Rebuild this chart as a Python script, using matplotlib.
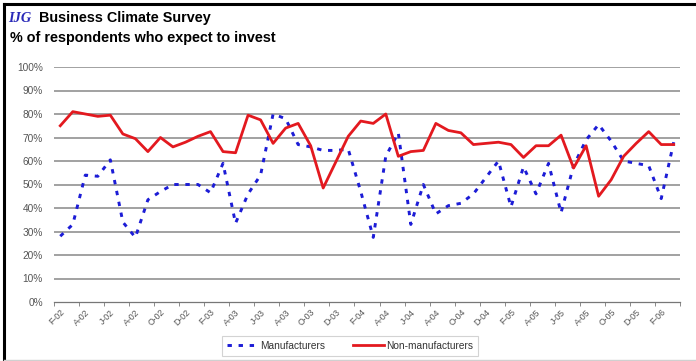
import numpy as np
import matplotlib.pyplot as plt
from matplotlib.lines import Line2D

# monthly survey, Feb-2002 .. Mar-2006 (% of respondents expecting to invest)
manufacturers = [28, 33, 54, 53.5, 60.5, 34, 27.5, 43.5, 47, 50,
                 50, 50, 46.5, 59, 33.5, 46, 54, 80, 78, 67,
                 66, 64.5, 64.5, 65, 47, 27.5, 62, 72, 33, 50,
                 37.5, 41, 42, 46, 53, 60, 40.5, 57.5, 46, 59,
                 38, 58, 69, 75.5, 68.5, 60, 59, 58, 44, 68]
non_manufacturers = [75, 81, 80, 79, 79.5, 71.5, 69.5, 64, 70, 66,
                     68, 70.5, 72.5, 64, 63.5, 79.5, 77.5, 67.5, 74, 76,
                     66.5, 48.5, 59.5, 70.5, 77, 76, 80, 62, 64, 64.5,
                     76, 73, 72, 67, 67.5, 68, 67, 61.5, 66.5, 66.5,
                     71, 57, 66.5, 45, 52, 62, 67.5, 72.5, 67, 67]
# one label every second month
tick_labels = ['F-02', 'A-02', 'J-02', 'A-02', 'O-02', 'D-02',
               'F-03', 'A-03', 'J-03', 'A-03', 'O-03', 'D-03',
               'F-04', 'A-04', 'J-04', 'A-04', 'O-04', 'D-04',
               'F-05', 'A-05', 'J-05', 'A-05', 'O-05', 'D-05', 'F-06']
y_ticks = [0, 10, 20, 30, 40, 50, 60, 70, 80, 90, 100]

BLUE = '#1c1cd6'
RED = '#e3191f'
GREY = '#555555'

plt.rcParams['font.family'] = ['Liberation Sans', 'DejaVu Sans']

fig = plt.figure(figsize=(6.96, 3.61), dpi=100)
ax = fig.add_axes([54 / 696, 1 - 302 / 361, 626 / 696, 235 / 361])

x = np.arange(len(manufacturers))
ax.plot(x, manufacturers, color=BLUE, lw=2.1, ls=(0, (1.5, 2.3)),
        label='Manufacturers', zorder=3)
ax.plot(x, non_manufacturers, color=RED, lw=2.0, label='Non-manufacturers',
        zorder=4)

ax.set_xlim(-0.5, len(manufacturers) - 0.5)
ax.set_ylim(0, 100)
ax.set_yticks(y_ticks)
ax.set_yticklabels(['{}%'.format(v) for v in y_ticks], fontsize=7.3, color=GREY)
for v in y_ticks[1:]:
    ax.axhline(v, color='#9a9a9a', lw=1.3, zorder=1)

ax.set_xticks(np.arange(0, len(manufacturers), 2))
ax.set_xticklabels(tick_labels, rotation=45, ha='right', rotation_mode='anchor',
                   fontsize=6.3, color=GREY)
ax.set_xticks(np.arange(-0.5, len(manufacturers), 2), minor=True)
ax.tick_params(axis='x', which='major', length=0, pad=4)
ax.tick_params(axis='x', which='minor', length=3, color='#777777', direction='out')
ax.tick_params(axis='y', length=0, pad=8)

for side in ['left', 'right', 'top']:
    ax.spines[side].set_visible(False)
ax.spines['bottom'].set_color('#777777')
ax.spines['bottom'].set_linewidth(0.9)

# titles
fig.text(8 / 696, 1 - 22 / 361, 'IJG', fontsize=10.4, color='#2a2ab8',
         fontstyle='italic', fontweight='bold', family='Liberation Serif')
fig.text(39 / 696, 1 - 22 / 361, 'Business Climate Survey', fontsize=10.4,
         fontweight='bold')
fig.text(10 / 696, 1 - 42 / 361, '% of respondents who expect to invest',
         fontsize=10.4, fontweight='bold')

handles = [Line2D([], [], color=BLUE, lw=2.1, ls=(0, (1.5, 2.3))),
           Line2D([], [], color=RED, lw=2.0)]
leg = fig.legend(handles, ['Manufacturers', 'Non-manufacturers'], ncol=2,
                 loc='center', bbox_to_anchor=(350 / 696, 1 - 346 / 361),
                 fontsize=7.3, frameon=True, fancybox=False, handlelength=3.0,
                 handletextpad=0.2, columnspacing=2.8, borderpad=0.5,
                 borderaxespad=0, labelcolor='#333333')
leg.get_frame().set_edgecolor('#c8c8c8')
leg.get_frame().set_linewidth(0.8)

# picture frame
fig.add_artist(Line2D([4 / 696, 4 / 696], [0, 1 - 4 / 361], color='black', lw=2.2,
                      transform=fig.transFigure))
fig.add_artist(Line2D([4 / 696, 1], [1 - 4 / 361, 1 - 4 / 361], color='black',
                      lw=2.2, transform=fig.transFigure))
fig.add_artist(Line2D([4 / 696, 1], [1.5 / 361, 1.5 / 361], color='#d0d0d0',
                      lw=1.0, transform=fig.transFigure))

plt.savefig('out.png', dpi=100)
